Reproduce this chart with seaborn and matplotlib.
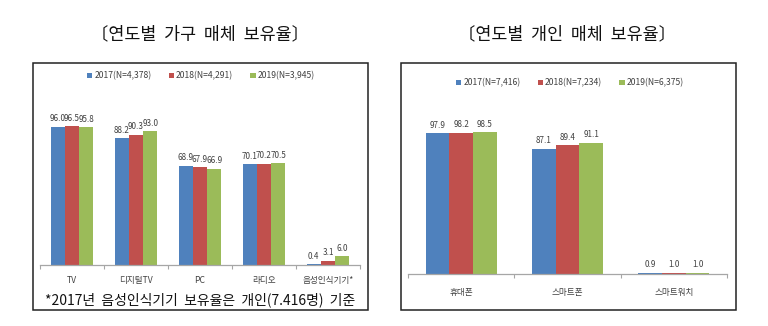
import matplotlib
matplotlib.use("Agg")
import matplotlib.pyplot as plt
from matplotlib.patches import Rectangle
import pandas as pd
import seaborn as sns

# Household media ownership by year (%)
household_media = ["TV", "디지털TV", "PC", "라디오", "음성인식기기*"]
household_years = ["2017(N=4,378)", "2018(N=4,291)", "2019(N=3,945)"]
household_2017 = [96.0, 88.2, 68.9, 70.1, 0.4]
household_2018 = [96.5, 90.3, 67.9, 70.2, 3.1]
household_2019 = [95.8, 93.0, 66.9, 70.5, 6.0]

# Personal media ownership by year (%)
personal_media = ["휴대폰", "스마트폰", "스마트워치"]
personal_years = ["2017(N=7,416)", "2018(N=7,234)", "2019(N=6,375)"]
personal_2017 = [97.9, 87.1, 0.9]
personal_2018 = [98.2, 89.4, 1.0]
personal_2019 = [98.5, 91.1, 1.0]

colors = ["#4F81BD", "#C0504D", "#9BBB59"]

sns.set_theme(style="white")
plt.rcParams["font.family"] = ["Noto Sans CJK KR", "DejaVu Sans"]

W, H = 768, 326
fig = plt.figure(figsize=(W / 100, H / 100), dpi=100)


def long_frame(media, years, series):
    rows = []
    for year, values in zip(years, series):
        for m, v in zip(media, values):
            rows.append({"media": m, "year": year, "value": v})
    return pd.DataFrame(rows)


def px_axes(x0, x1, baseline, ymax, scale):
    top = baseline - ymax * scale
    return fig.add_axes([x0 / W, 1 - baseline / H, (x1 - x0) / W, (baseline - top) / H])


def px_box(x0, y0, x1, y1):
    fig.patches.append(Rectangle((x0 / W, 1 - y1 / H), (x1 - x0) / W, (y1 - y0) / H,
                                 transform=fig.transFigure, fill=False,
                                 edgecolor="#222222", linewidth=1.1))


def draw_panel(media, years, series, x0, x1, baseline, legend_xy, label_pad):
    df = long_frame(media, years, series)
    ax = px_axes(x0, x1, baseline, 110, 1.44)
    sns.barplot(data=df, x="media", y="value", hue="year", palette=colors,
                width=0.67, gap=0, ax=ax, saturation=1, errorbar=None,
                linewidth=0)
    ax.set_ylim(0, 110)
    ax.set_xlim(-0.5, len(media) - 0.5)
    ax.set_xlabel("")
    ax.set_ylabel("")
    ax.set_yticks([])
    for side in ["left", "right", "top"]:
        ax.spines[side].set_visible(False)
    ax.spines["bottom"].set_color("#A6A6A6")
    ax.spines["bottom"].set_linewidth(0.9)
    ax.set_xticks([i - 0.5 for i in range(len(media) + 1)], minor=True)
    ax.tick_params(axis="x", which="minor", bottom=True, length=3, width=0.8,
                   color="#A6A6A6", direction="out")
    ax.tick_params(axis="x", which="major", bottom=False, length=0, pad=label_pad,
                   labelsize=6.2, labelcolor="#404040")
    ax.patch.set_alpha(0)
    for cont in ax.containers:
        ax.bar_label(cont, fmt="%.1f", padding=2.5, fontsize=5.8, color="#404040")
    handles, labels = ax.get_legend_handles_labels()
    ax.get_legend().remove()
    fig.legend(handles, labels, loc="center", ncol=3, frameon=False,
               bbox_to_anchor=(legend_xy[0] / W, 1 - legend_xy[1] / H),
               fontsize=6.2, handlelength=0.6, handleheight=0.6,
               handletextpad=0.25, columnspacing=2.0, labelcolor="#404040")
    return ax


# Left panel: household media
px_box(33, 63, 368, 310)
fig.text(200 / W, 1 - 34 / H, "〔연도별  가구  매체  보유율〕", ha="center", va="center",
         fontsize=12.5, color="#111111")
draw_panel(household_media, household_years,
           [household_2017, household_2018, household_2019],
           40, 360, 265, (201, 76), 8)
fig.text(200 / W, 1 - 300 / H, "*2017년  음성인식기기  보유율은  개인(7.416명)  기준",
         ha="center", va="center", fontsize=10, color="#111111")

# Right panel: personal media
px_box(401, 63, 736, 310)
fig.text(567 / W, 1 - 34 / H, "〔연도별  개인  매체  보유율〕", ha="center", va="center",
         fontsize=12.5, color="#111111")
draw_panel(personal_media, personal_years,
           [personal_2017, personal_2018, personal_2019],
           408, 727, 274, (570, 83), 10)

fig.savefig("out.png", dpi=100, facecolor="white")
